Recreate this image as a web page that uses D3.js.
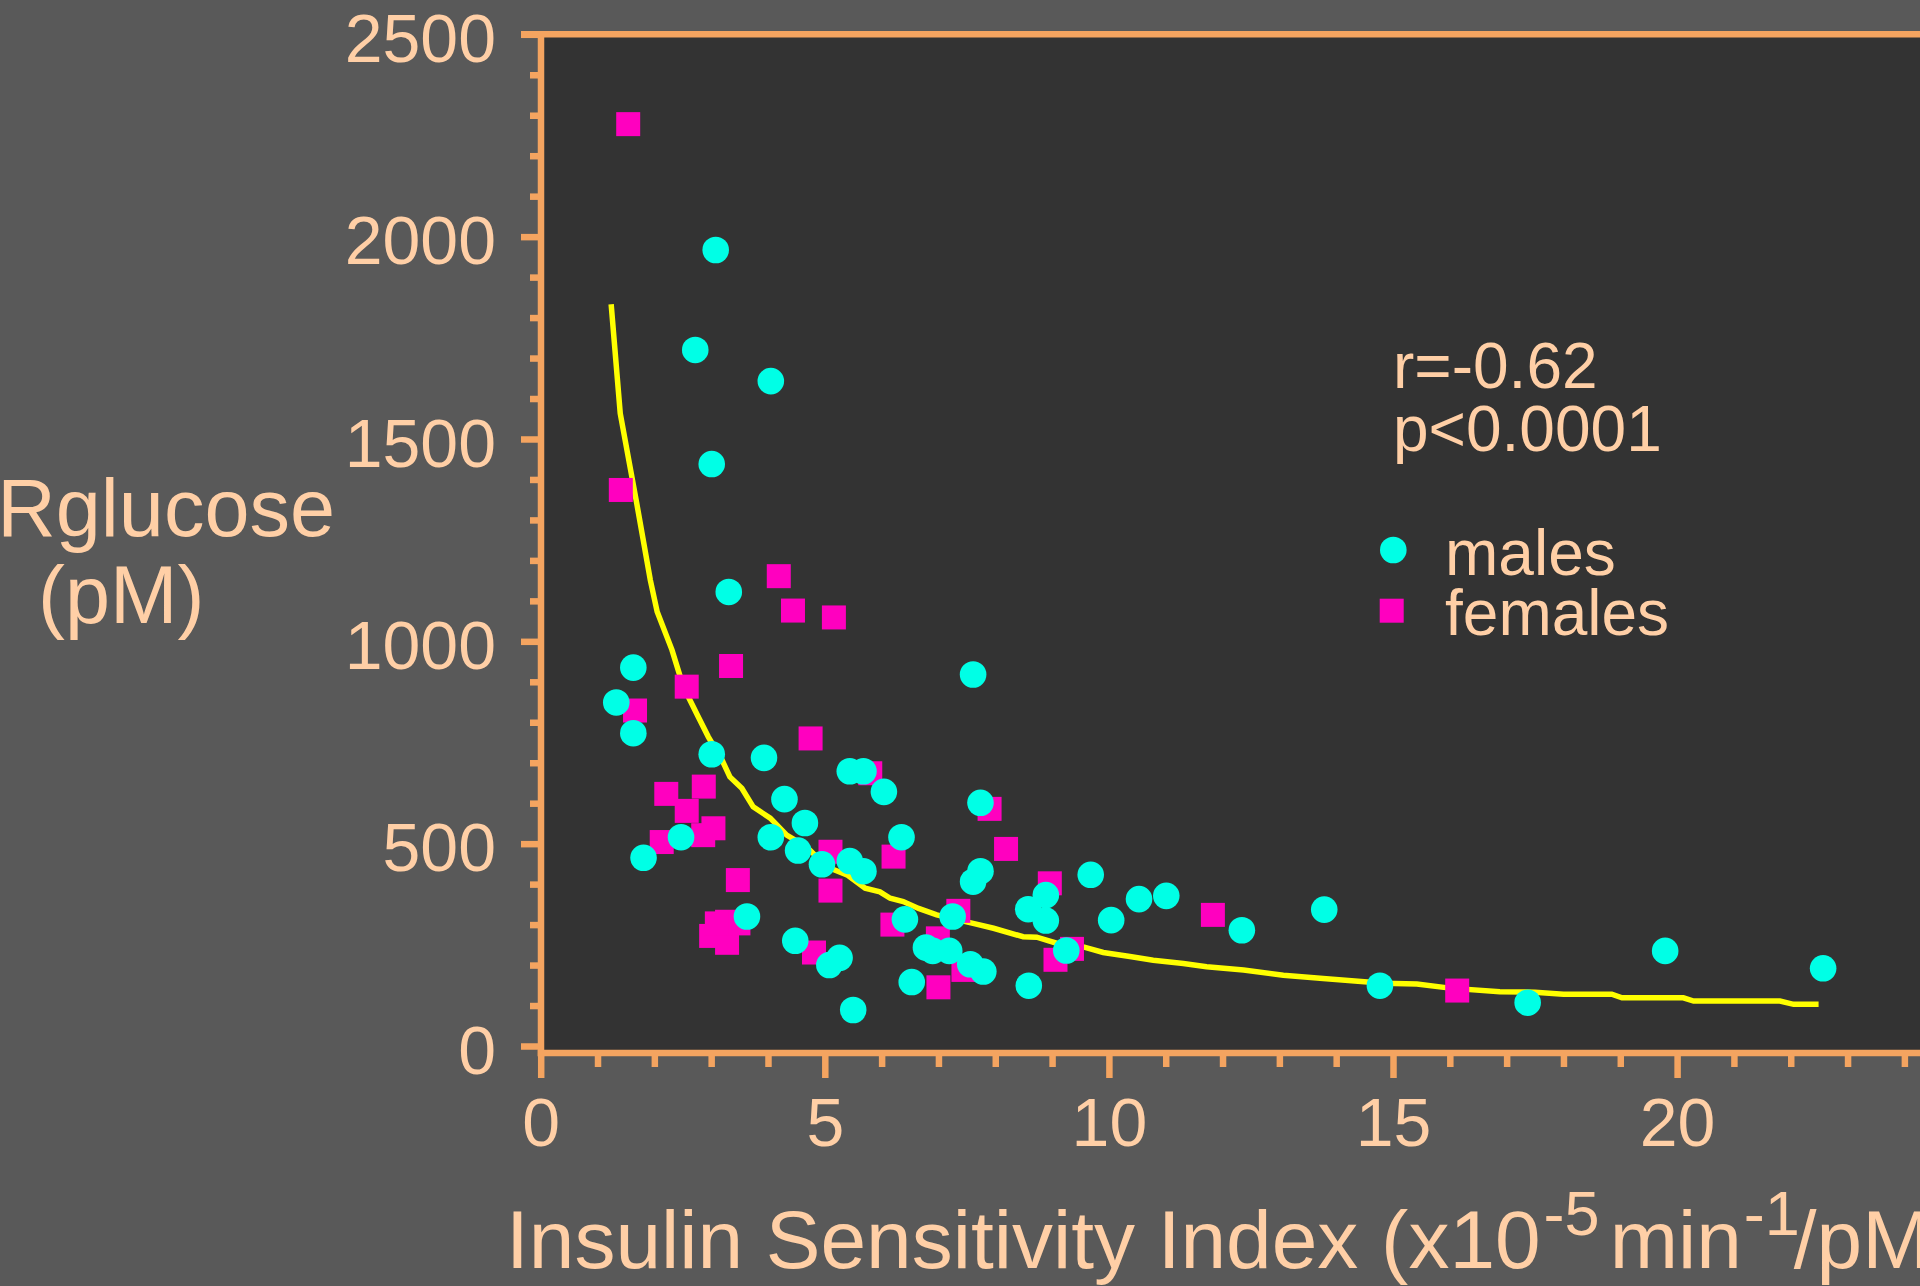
<!DOCTYPE html>
<html>
<head>
<meta charset="utf-8">
<script src="https://cdn.jsdelivr.net/npm/d3@7"></script>
<style>
  html, body { margin: 0; padding: 0; background: #595959; }
  svg { display: block; }
  text { font-family: "Liberation Sans", Arial, sans-serif; }
</style>
</head>
<body>
<div id="vis"></div>
<script>
// males: [insulin sensitivity, Rglucose]
const males = [
  [3.08, 1967], [2.72, 1720], [4.05, 1643], [3.01, 1438], [3.31, 1122],
  [1.63, 935], [1.33, 849], [1.63, 773], [7.61, 918], [3.01, 721],
  [3.93, 712], [2.47, 516], [1.81, 465], [5.44, 679], [5.68, 679],
  [6.04, 628], [4.29, 610], [4.65, 551], [4.05, 516], [4.53, 483],
  [4.95, 449], [5.44, 457], [5.68, 432], [6.35, 516], [7.74, 601],
  [7.74, 432], [7.61, 406], [3.63, 320], [4.48, 260], [5.26, 218],
  [5.08, 200], [5.50, 89], [6.41, 313], [7.25, 320], [6.78, 243],
  [6.90, 235], [7.19, 235], [7.56, 202], [7.79, 184], [6.53, 158],
  [8.59, 149], [8.58, 338], [8.89, 373], [8.89, 310], [9.25, 236],
  [9.68, 423], [10.04, 311], [10.53, 363], [11.01, 371], [12.34, 286],
  [13.79, 337], [14.77, 149], [17.37, 107], [19.79, 235], [22.57, 192]
];

// females
const females = [
  [1.54, 2278], [1.41, 1374], [4.19, 1161], [4.44, 1076], [5.16, 1059],
  [3.35, 939], [2.57, 888], [1.66, 829], [4.75, 760], [2.21, 623],
  [2.87, 641], [2.57, 581], [3.04, 538], [2.86, 521], [2.13, 504],
  [5.80, 674], [5.10, 480], [5.10, 384], [6.21, 468], [7.90, 586],
  [8.19, 487], [3.47, 410], [3.00, 272], [3.28, 255], [3.28, 307],
  [3.48, 303], [3.10, 303], [4.81, 231], [6.19, 300], [7.35, 334],
  [6.99, 266], [7.44, 188], [7.00, 145], [8.96, 402], [9.35, 240],
  [9.06, 213], [11.83, 324], [16.13, 137]
];

// fitted curve
const fitLine = [
  [1.24, 1833], [1.40, 1563], [1.69, 1341], [1.93, 1151], [2.05, 1073],
  [2.31, 979], [2.51, 888], [2.77, 814], [2.95, 764], [3.19, 707],
  [3.33, 665], [3.54, 637], [3.74, 591], [4.04, 563], [4.33, 521],
  [4.68, 492], [5.03, 443], [5.39, 423], [5.71, 390], [5.97, 381],
  [6.15, 365], [6.38, 357], [6.65, 340], [6.97, 324], [7.61, 303],
  [7.97, 291], [8.49, 270], [8.73, 269], [9.08, 254], [9.55, 245],
  [9.90, 231], [10.37, 221], [10.78, 212], [11.31, 204], [11.72, 196],
  [12.37, 188], [13.07, 175], [13.77, 167], [14.83, 155], [15.42, 153],
  [16.00, 143], [16.88, 134], [17.50, 133], [18.00, 128], [18.85, 128],
  [19.03, 119], [20.11, 119], [20.29, 111], [21.81, 111], [22.05, 103],
  [22.49, 103]
];

const xMajor = [0, 5, 10, 15, 20];
const yMajor = [0, 500, 1000, 1500, 2000, 2500];
const statsText = ['r=-0.62', 'p<0.0001'];
const legendItems = ['males', 'females'];

const W = 1920, H = 1286;
const axisColor = '#F4A460';
const textColor = '#FFCFA6';
const cyan = '#00FFE6';
const magenta = '#FF00BF';

const svg = d3.select('#vis')
  .append('svg')
  .attr('width', W)
  .attr('height', H);

svg.append('rect')
  .attr('width', W)
  .attr('height', H)
  .attr('fill', '#595959');

const x = d3.scaleLinear().domain([0, 25]).range([540.7, 540.7 + 25 * 56.82]);
const y = d3.scaleLinear().domain([0, 2500]).range([1046, 34.3]);

const plotLeft = 541, plotTop = y(2500), plotBottom = 1053;

// plot background
svg.append('rect')
  .attr('x', plotLeft)
  .attr('y', plotTop)
  .attr('width', W - plotLeft)
  .attr('height', plotBottom - plotTop)
  .attr('fill', '#333333');

// fitted line
svg.append('path')
  .datum(fitLine)
  .attr('fill', 'none')
  .attr('stroke', '#FFFF00')
  .attr('stroke-width', 5.5)
  .attr('d', d3.line().x(d => x(d[0])).y(d => y(d[1])));

// females
svg.selectAll('.female')
  .data(females)
  .enter()
  .append('rect')
  .attr('class', 'female')
  .attr('x', d => x(d[0]) - 12)
  .attr('y', d => y(d[1]) - 12)
  .attr('width', 24)
  .attr('height', 24)
  .attr('fill', magenta);

// males
svg.selectAll('.male')
  .data(males)
  .enter()
  .append('circle')
  .attr('class', 'male')
  .attr('cx', d => x(d[0]))
  .attr('cy', d => y(d[1]))
  .attr('r', 13.3)
  .attr('fill', cyan);

// axes
function styleAxis(g) {
  g.select('.domain').remove();
  g.selectAll('.tick line')
    .attr('stroke', axisColor)
    .attr('stroke-width', 6.5);
  g.selectAll('.tick text')
    .attr('fill', textColor)
    .attr('font-size', 68)
    .attr('font-family', '"Liberation Sans", Arial, sans-serif');
}

const yMinor = d3.range(0, 2501, 100).filter(v => v % 500 !== 0);
const xMinor = d3.range(1, 25).filter(v => v % 5 !== 0);

svg.append('g')
  .attr('transform', `translate(${plotLeft},0)`)
  .call(d3.axisLeft(y).tickValues(yMinor).tickSize(11).tickFormat(''))
  .call(styleAxis);

svg.append('g')
  .attr('transform', `translate(${plotLeft},0)`)
  .call(d3.axisLeft(y).tickValues(yMajor).tickSize(20).tickPadding(25).tickFormat(d3.format('d')))
  .call(styleAxis)
  .call(g => g.selectAll('.tick text').attr('dy', '0.4em'));

svg.append('g')
  .attr('transform', `translate(0,${plotBottom})`)
  .call(d3.axisBottom(x).tickValues(xMinor).tickSize(14).tickFormat(''))
  .call(styleAxis);

svg.append('g')
  .attr('transform', `translate(0,${plotBottom})`)
  .call(d3.axisBottom(x).tickValues(xMajor).tickSize(25).tickPadding(20).tickFormat(d3.format('d')))
  .call(styleAxis);

// frame lines
const frame = svg.append('g')
  .attr('stroke', axisColor)
  .attr('stroke-width', 6.5);
frame.append('line').attr('x1', plotLeft).attr('x2', plotLeft).attr('y1', plotTop - 3.25).attr('y2', plotBottom + 3.25);
frame.append('line').attr('x1', 521).attr('x2', W).attr('y1', plotTop).attr('y2', plotTop);
frame.append('line').attr('x1', plotLeft - 3.25).attr('x2', W).attr('y1', plotBottom).attr('y2', plotBottom);

// axis titles
svg.append('text')
  .attr('x', 335)
  .attr('y', 536)
  .attr('text-anchor', 'end')
  .attr('font-size', 81)
  .attr('fill', textColor)
  .text('Rglucose');

svg.append('text')
  .attr('x', 38)
  .attr('y', 623)
  .attr('font-size', 81)
  .attr('fill', textColor)
  .text('(pM)');

const xt = svg.append('text')
  .attr('x', 506)
  .attr('y', 1268)
  .attr('font-size', 82)
  .attr('fill', textColor);
xt.append('tspan').text('Insulin Sensitivity Index (x10');
xt.append('tspan').attr('dx', 3).attr('dy', -33).attr('font-size', 63).text('-5');
xt.append('tspan').attr('dx', 10).attr('dy', 33).text('min');
xt.append('tspan').attr('dx', 2).attr('dy', -33).attr('font-size', 63).text('-1');
xt.append('tspan').attr('dx', -6).attr('dy', 33).text('/pM)');

// stats
svg.selectAll('.stat')
  .data(statsText)
  .enter()
  .append('text')
  .attr('class', 'stat')
  .attr('x', 1393)
  .attr('y', (d, i) => 388 + i * 62.5)
  .attr('font-size', 64)
  .attr('fill', textColor)
  .text(d => d);

// legend
const legend = svg.append('g');
legend.append('circle')
  .attr('cx', 1393.3)
  .attr('cy', 550)
  .attr('r', 13.3)
  .attr('fill', cyan);
legend.append('rect')
  .attr('x', 1391.7 - 12)
  .attr('y', 610.7 - 12)
  .attr('width', 24)
  .attr('height', 24)
  .attr('fill', magenta);
legend.selectAll('.legend-label')
  .data(legendItems)
  .enter()
  .append('text')
  .attr('class', 'legend-label')
  .attr('x', 1445)
  .attr('y', (d, i) => 575 + i * 60)
  .attr('font-size', 64)
  .attr('fill', textColor)
  .text(d => d);
</script>
</body>
</html>
